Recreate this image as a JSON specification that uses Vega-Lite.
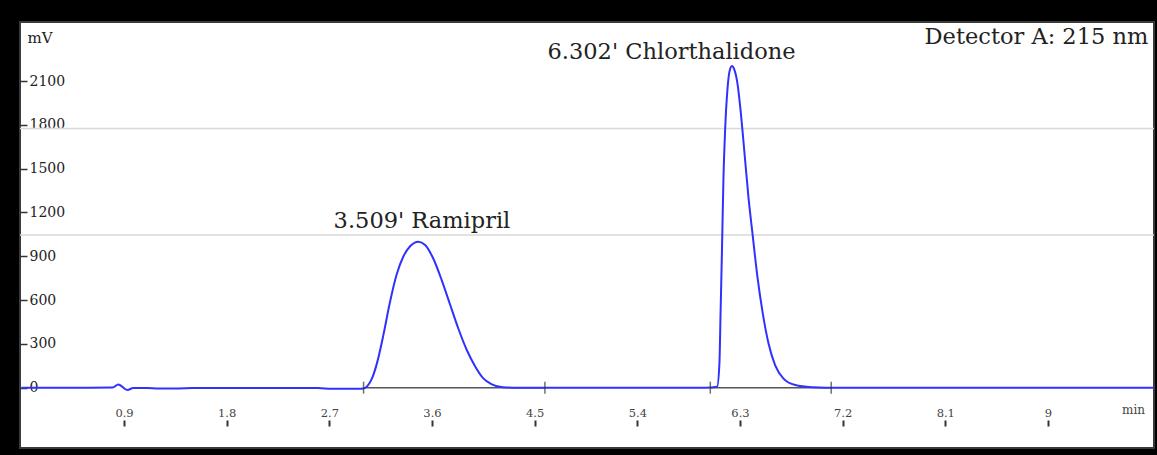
{
  "$schema": "https://vega.github.io/schema/vega-lite/v6.json",
  "width": 1134,
  "height": 426,
  "autosize": {"type": "none"},
  "padding": {"left": 20, "top": 22, "right": 3, "bottom": 7},
  "background": "#000000",
  "config": {
    "view": {"fill": "white", "stroke": "#3a3a3a", "strokeWidth": 2},
    "font": "DejaVu Serif"
  },
  "layer": [
    {
      "data": {"values": [{"mv": 1775}, {"mv": 1045}]},
      "mark": {"type": "rule", "color": "#d9d9d9", "strokeWidth": 1.5},
      "encoding": {
        "y": {"field": "mv", "type": "quantitative"}
      }
    },
    {
      "data": {"values": [{"t": 3.0, "t2": 4.59}, {"t": 6.04, "t2": 7.1}]},
      "mark": {"type": "rule", "color": "#555555", "strokeWidth": 1.5},
      "encoding": {
        "x": {"field": "t", "type": "quantitative"},
        "x2": {"field": "t2"},
        "y": {"datum": 0, "type": "quantitative"}
      }
    },
    {
      "data": {"values": [
        {"t": 0.0, "mv": 0}, {"t": 0.3, "mv": 0}, {"t": 0.6, "mv": 0}, {"t": 0.8, "mv": 1},
        {"t": 0.85, "mv": 22}, {"t": 0.93, "mv": -16}, {"t": 0.98, "mv": -2}, {"t": 1.1, "mv": -2},
        {"t": 1.2, "mv": -5}, {"t": 1.38, "mv": -5}, {"t": 1.5, "mv": -3}, {"t": 2.0, "mv": -3},
        {"t": 2.6, "mv": -3}, {"t": 2.72, "mv": -8}, {"t": 2.95, "mv": -8}, {"t": 3.0, "mv": -5},
        {"t": 3.035, "mv": 12}, {"t": 3.075, "mv": 65}, {"t": 3.12, "mv": 175}, {"t": 3.175, "mv": 365},
        {"t": 3.23, "mv": 580}, {"t": 3.29, "mv": 775}, {"t": 3.35, "mv": 900}, {"t": 3.41, "mv": 970},
        {"t": 3.48, "mv": 1000},
        {"t": 3.54, "mv": 977}, {"t": 3.61, "mv": 886}, {"t": 3.685, "mv": 737}, {"t": 3.76, "mv": 566},
        {"t": 3.83, "mv": 407}, {"t": 3.905, "mv": 258}, {"t": 3.98, "mv": 144}, {"t": 4.05, "mv": 64},
        {"t": 4.12, "mv": 25}, {"t": 4.22, "mv": 3}, {"t": 4.35, "mv": 0}, {"t": 5.0, "mv": 0},
        {"t": 6.0, "mv": 0}, {"t": 6.1, "mv": 7}, {"t": 6.12, "mv": 167}, {"t": 6.13, "mv": 509},
        {"t": 6.143, "mv": 966}, {"t": 6.155, "mv": 1422}, {"t": 6.17, "mv": 1765}, {"t": 6.19, "mv": 2039},
        {"t": 6.208, "mv": 2164}, {"t": 6.23, "mv": 2203}, {"t": 6.25, "mv": 2180}, {"t": 6.278, "mv": 2084},
        {"t": 6.308, "mv": 1879}, {"t": 6.34, "mv": 1605}, {"t": 6.374, "mv": 1308}, {"t": 6.413, "mv": 1034},
        {"t": 6.453, "mv": 760}, {"t": 6.5, "mv": 509}, {"t": 6.55, "mv": 304}, {"t": 6.608, "mv": 155},
        {"t": 6.68, "mv": 64}, {"t": 6.785, "mv": 18}, {"t": 6.94, "mv": 3}, {"t": 7.05, "mv": 0},
        {"t": 8.0, "mv": 0}, {"t": 9.0, "mv": 0}, {"t": 9.93, "mv": 0}
      ]},
      "mark": {"type": "line", "color": "#3030ff", "strokeWidth": 2, "interpolate": "monotone"},
      "encoding": {
        "x": {
          "field": "t", "type": "quantitative",
          "scale": {"domain": [-0.012, 9.93], "nice": false, "zero": false},
          "axis": {
            "values": [0.9, 1.8, 2.7, 3.6, 4.5, 5.4, 6.3, 7.2, 8.1, 9],
            "labelExpr": "'' + datum.value",
            "offset": -22,
            "domain": false,
            "grid": false,
            "tickSize": -6,
            "tickWidth": 2,
            "tickColor": "#333333",
            "labelPadding": -4,
            "labelBaseline": "alphabetic",
            "labelFont": "DejaVu Serif",
            "labelFontSize": 11.5,
            "labelColor": "#444444",
            "labelFlush": false,
            "labelOverlap": false,
            "title": "min",
            "titleX": 1113,
            "titleY": -13,
            "titleAlign": "center",
            "titleBaseline": "alphabetic",
            "titleFont": "DejaVu Serif",
            "titleFontSize": 12,
            "titleFontWeight": "normal",
            "titleColor": "#444444"
          }
        },
        "y": {
          "field": "mv", "type": "quantitative",
          "scale": {"domain": [-413, 2504], "nice": false, "zero": false},
          "axis": {
            "values": [0, 300, 600, 900, 1200, 1500, 1800, 2100],
            "format": "d",
            "domain": false,
            "grid": false,
            "tickSize": -7,
            "tickWidth": 1.5,
            "tickColor": "#333333",
            "labelPadding": -2,
            "labelAlign": "left",
            "labelBaseline": "middle",
            "labelFont": "DejaVu Serif",
            "labelFontSize": 14,
            "labelColor": "#222222",
            "labelFlush": false,
            "title": "mV",
            "titleAngle": 0,
            "titleX": 7,
            "titleY": 20,
            "titleAlign": "left",
            "titleBaseline": "alphabetic",
            "titleFont": "DejaVu Serif",
            "titleFontSize": 15,
            "titleFontWeight": "normal",
            "titleColor": "#222222"
          }
        }
      }
    },
    {
      "data": {"values": [{"t": 3.0}, {"t": 4.59}, {"t": 6.04}, {"t": 7.1}]},
      "mark": {"type": "tick", "orient": "vertical", "color": "#333333", "size": 12, "thickness": 1.5},
      "encoding": {
        "x": {"field": "t", "type": "quantitative"},
        "y": {"datum": 0, "type": "quantitative"}
      }
    },
    {
      "data": {"values": [
        {"name": "3.509' Ramipril", "t": 3.512, "mv": 1094},
        {"name": "6.302' Chlorthalidone", "t": 5.70, "mv": 2251}
      ]},
      "mark": {"type": "text", "align": "center", "baseline": "alphabetic", "font": "DejaVu Serif", "fontSize": 22.5, "color": "#222222"},
      "encoding": {
        "x": {"field": "t", "type": "quantitative"},
        "y": {"field": "mv", "type": "quantitative"},
        "text": {"field": "name"}
      }
    },
    {
      "data": {"values": [
        {"name": "Detector A: 215 nm", "t": 9.88, "mv": 2354}
      ]},
      "mark": {"type": "text", "align": "right", "baseline": "alphabetic", "font": "DejaVu Serif", "fontSize": 22.5, "color": "#222222"},
      "encoding": {
        "x": {"field": "t", "type": "quantitative"},
        "y": {"field": "mv", "type": "quantitative"},
        "text": {"field": "name"}
      }
    }
  ]
}
